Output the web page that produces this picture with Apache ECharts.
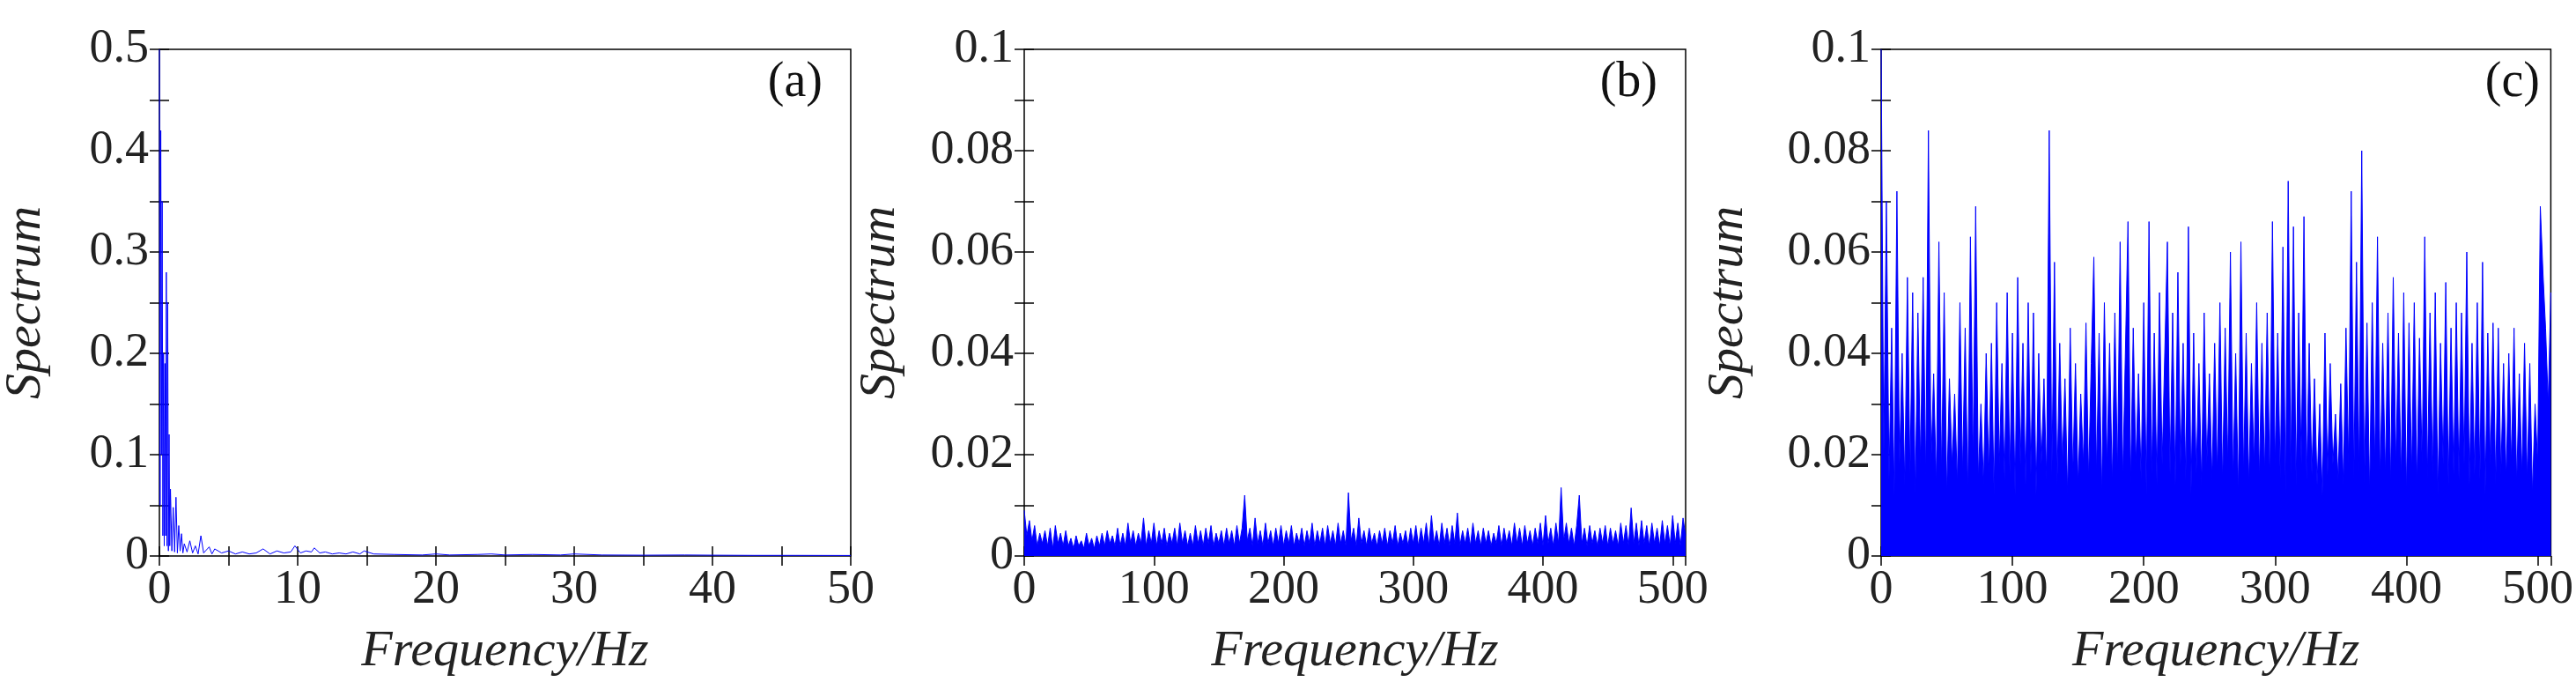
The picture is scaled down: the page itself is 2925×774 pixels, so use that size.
<!DOCTYPE html>
<html>
<head>
<meta charset="utf-8">
<script src="https://cdn.jsdelivr.net/npm/echarts@6/dist/echarts.min.js"></script>
<style>html,body{margin:0;padding:0;background:#fff}#main{width:2925px;height:774px}</style>
</head>
<body>
<div id="main"></div>
<script>
// panel (a): low-frequency spectrum, [Hz, value]
const freqA = [0,0.05,0.1,0.15,0.2,0.25,0.3,0.35,0.4,0.45,0.5,0.55,0.6,0.65,0.7,0.75,0.8,0.9,1.0,1.1,1.2,1.3,1.4,1.5,1.6,1.7,1.8,2.0,2.2,2.4,2.6,2.8,3.0,3.2,3.4,3.6,3.8,4.0,4.5,5.0,5.5,6.0,6.5,7.0,7.5,8.0,8.5,9.0,9.5,9.8,10.2,10.6,11.0,11.2,11.6,12.0,12.5,13.0,13.5,14.0,14.5,14.8,15.5,17,19,20,21,23,24,25,27,29,30,32,35,38,40,43,46,50];
const specA = [0.5,0.05,0.42,0.1,0.35,0.02,0.2,0.01,0.19,0.02,0.28,0.01,0.25,0.005,0.12,0.01,0.066,0.005,0.048,0.004,0.058,0.003,0.03,0.005,0.022,0.003,0.012,0.004,0.015,0.003,0.01,0.002,0.02,0.003,0.006,0.009,0.002,0.007,0.003,0.005,0.002,0.004,0.002,0.003,0.007,0.002,0.005,0.003,0.004,0.01,0.003,0.005,0.004,0.008,0.003,0.004,0.002,0.003,0.002,0.004,0.002,0.005,0.002,0.0015,0.001,0.002,0.001,0.0015,0.002,0.001,0.0015,0.001,0.002,0.001,0.0008,0.001,0.0008,0.0006,0.0006,0.0005];

// panels (b) and (c): one value every 2 Hz, 0..510 Hz
const specB = [
.009,.004,.007,.003,.006,.002,.0045,.0025,.005,.002,.0055,.0015,.006,.0025,.0045,.002,
.005,.002,.0035,.0015,.004,.002,.003,.0015,.0045,.002,.0035,.0015,.004,.002,.0045,.002,
.005,.0025,.004,.002,.0055,.002,.0045,.002,.0065,.0025,.005,.002,.0045,.0025,.0075,.002,
.005,.0025,.0065,.002,.005,.0025,.0055,.002,.0045,.0025,.0055,.002,.0065,.0025,.005,.002,
.0045,.002,.006,.0025,.005,.002,.0055,.0025,.006,.002,.0045,.0025,.005,.002,.0055,.0025,
.005,.002,.006,.0025,.0055,.012,.003,.0055,.002,.0075,.0025,.005,.002,.0065,.0025,.005,
.002,.0055,.0025,.006,.002,.005,.0025,.006,.002,.0045,.0025,.0055,.002,.005,.0025,.0065,
.002,.005,.0025,.0055,.002,.006,.0025,.005,.002,.0065,.0025,.005,.002,.0125,.003,.0055,
.002,.0075,.0025,.005,.002,.0055,.0025,.0045,.002,.005,.0025,.0055,.002,.005,.0025,.006,
.002,.0045,.0025,.005,.002,.0055,.0025,.006,.002,.0055,.0025,.0065,.002,.008,.0025,.005,
.002,.0065,.0025,.0055,.002,.006,.0025,.0085,.002,.005,.0025,.0055,.002,.0065,.0025,.005,
.002,.0055,.0025,.005,.002,.0045,.0025,.006,.002,.0055,.0025,.005,.002,.0065,.0025,.0055,
.002,.006,.0025,.005,.002,.0055,.0025,.0065,.002,.008,.0025,.0055,.002,.0065,.0025,.0135,
.003,.0065,.0025,.0055,.002,.006,.012,.0025,.0055,.002,.006,.0025,.005,.002,.0055,.0025,
.006,.002,.0055,.0025,.005,.002,.0065,.0025,.006,.002,.0095,.0025,.0065,.002,.007,.0025,
.006,.002,.0065,.0025,.0055,.002,.007,.0025,.006,.002,.008,.0025,.0065,.002,.0075,.004
];
const specC = [
.1,.02,.07,.015,.045,.012,.072,.018,.04,.014,.055,.016,.052,.012,.048,.018,
.055,.015,.084,.018,.036,.014,.062,.016,.052,.012,.035,.018,.032,.014,.05,.016,
.045,.012,.063,.018,.069,.015,.03,.014,.04,.016,.042,.012,.05,.018,.038,.015,
.052,.016,.044,.012,.055,.018,.042,.014,.05,.016,.048,.012,.04,.018,.035,.015,
.084,.016,.058,.014,.042,.018,.035,.012,.045,.016,.038,.014,.032,.018,.046,.015,
.038,.059,.016,.044,.012,.05,.018,.042,.014,.048,.016,.062,.015,.04,.066,.014,
.045,.018,.036,.015,.05,.012,.066,.016,.044,.014,.052,.018,.04,.062,.016,.048,
.014,.056,.018,.042,.015,.065,.012,.044,.016,.038,.014,.048,.018,.036,.015,.042,
.016,.05,.014,.045,.018,.06,.015,.04,.012,.062,.016,.044,.014,.038,.018,.05,
.015,.042,.016,.048,.014,.066,.018,.044,.015,.061,.012,.074,.016,.065,.014,.048,
.018,.067,.015,.042,.016,.035,.014,.03,.012,.044,.016,.038,.018,.028,.015,.034,
.014,.045,.018,.072,.015,.058,.016,.08,.014,.046,.012,.05,.018,.063,.015,.042,
.016,.048,.014,.055,.018,.044,.015,.052,.012,.046,.016,.05,.014,.043,.018,.063,
.015,.048,.016,.052,.012,.042,.018,.054,.014,.045,.016,.05,.015,.048,.018,.06,
.014,.042,.016,.05,.015,.058,.012,.044,.018,.046,.014,.045,.016,.038,.015,.04,
.018,.045,.014,.036,.016,.042,.015,.038,.012,.03,.018,.069,.056,.045,.03,.052
];
const panelTags = ['(a)', '(b)', '(c)'];

const pairs = (xs, ys) => ys.map((v, i) => [xs[i], v]);
const every2 = (ys) => ys.map((v, i) => [i * 2, v]);

const chart = echarts.init(document.getElementById('main'), null, { renderer: 'canvas' });
const font = 'Liberation Serif';
const grids = [
    { left: 178, right: 1959, top: 56, bottom: 142 },
    { left: 1163, right: 1011, top: 56, bottom: 142 },
    { left: 2136, right: 9, top: 56, bottom: 142 }
];
// tick step and label step per panel
const xCfg = [
    { max: 50, tick: 5, label: 10 },
    { max: 510, tick: 100, label: 100 },
    { max: 510, tick: 100, label: 100 }
];
const yCfg = [
    { max: 0.5, tick: 0.05, label: 0.1, nameGap: 122 },
    { max: 0.1, tick: 0.01, label: 0.02, nameGap: 134 },
    { max: 0.1, tick: 0.01, label: 0.02, nameGap: 144 }
];
const isMult = (v, step) => Math.abs(v / step - Math.round(v / step)) < 1e-6;

const xAxis = [], yAxis = [];
grids.forEach((g, i) => {
    const xc = xCfg[i], yc = yCfg[i];
    const base = {
        gridIndex: i, type: 'value', min: 0, splitLine: { show: false },
        axisLine: { show: false },
        axisTick: { inside: true, length: 11, lineStyle: { color: '#000', width: 1.5 } }
    };
    xAxis.push(Object.assign({}, base, {
        max: xc.max, interval: xc.tick,
        axisLabel: { fontFamily: font, fontSize: 54, color: '#222', margin: 12,
            showMaxLabel: isMult(xc.max, xc.label),
            formatter: (v) => (isMult(v, xc.label) && v <= xc.max ? String(v) : '') },
        name: 'Frequency/Hz', nameLocation: 'middle', nameGap: 80,
        nameTextStyle: { fontFamily: font, fontStyle: 'italic', fontSize: 58, color: '#222' }
    }));
    xAxis.push(Object.assign({}, base, {
        position: 'top', max: xc.max, interval: xc.tick, axisLabel: { show: false }
    }));
    yAxis.push(Object.assign({}, base, {
        max: yc.max, interval: yc.tick,
        axisLabel: { fontFamily: font, fontSize: 54, color: '#222', margin: 12,
            formatter: (v) => (isMult(v, yc.label) ? (v === 0 ? '0' : String(+v.toFixed(3))) : '') },
        name: 'Spectrum', nameLocation: 'middle', nameGap: yc.nameGap,
        nameTextStyle: { fontFamily: font, fontStyle: 'italic', fontSize: 58, color: '#222' }
    }));
    yAxis.push(Object.assign({}, base, {
        position: 'right', max: yc.max, interval: yc.tick, axisLabel: { show: false }
    }));
});

const datasets = [pairs(freqA, specA), every2(specB), every2(specC)];
const series = datasets.map((d, i) => ({
    type: 'line', xAxisIndex: i * 2, yAxisIndex: i * 2, data: d,
    showSymbol: false, animation: false,
    lineStyle: { color: '#0000ff', width: 1 },
    areaStyle: i === 0 ? undefined : { color: '#0000ff', opacity: 1 }
}));

const option = {
    animation: false,
    grid: grids.map(g => Object.assign({ show: true, borderColor: '#000', borderWidth: 1.5, backgroundColor: '#fff' }, g)),
    xAxis: xAxis,
    yAxis: yAxis,
    series: series,
    graphic: panelTags.map((t, i) => ({
        type: 'text', right: [1959, 1011, 9][i] + 32, top: 66,
        style: { text: t, font: '56px "Liberation Serif"', fill: '#111' }
    }))
};
chart.setOption(option);
</script>
</body>
</html>
